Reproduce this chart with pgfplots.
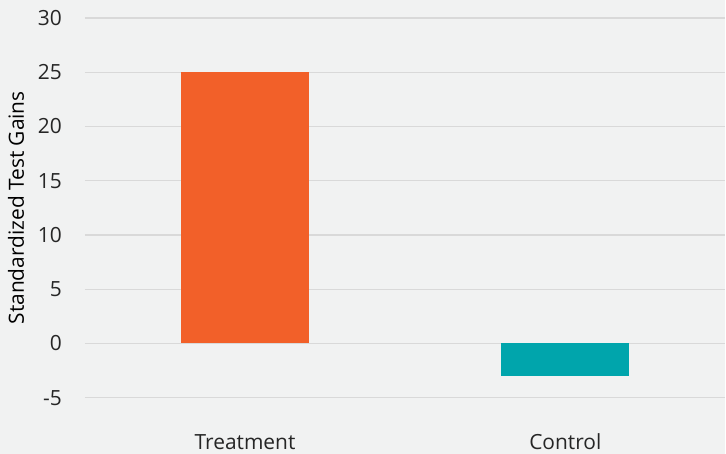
\documentclass[border=0pt]{standalone}
\usepackage{pgfplots}
\pgfplotsset{compat=1.18}
\usepackage{fontspec}
\setmainfont{Open Sans}
\definecolor{bgc}{HTML}{F1F2F2}
\definecolor{gridc}{HTML}{D9D9D9}
\definecolor{treat}{HTML}{F26029}
\definecolor{ctrl}{HTML}{00A5AC}
\begin{document}
\fontsize{21}{25}\selectfont
\begin{tikzpicture}[x=1bp,y=1bp]
  \fill[bgc] (-85bp,-56bp) rectangle (641bp,398bp);
  \begin{axis}[
    at={(0,0)}, anchor=south west,
    scale only axis,
    width=641bp, height=380bp,
    ymin=-5, ymax=30,
    ytick={-5,0,5,10,15,20,25,30},
    xmin=-0.5, xmax=1.5,
    xtick={0,1},
    xticklabels={Treatment, Control},
    ybar, bar width=0.4,
    axis line style={draw=none},
    major tick length=0pt,
    ymajorgrids,
    grid style={gridc, line width=1.2bp},
    /pgf/number format/assume math mode=true,
    ticklabel style={font=\fontsize{21}{25}\selectfont, text=black!85},
    yticklabel style={anchor=east, inner sep=0pt, xshift=-23bp},
    xticklabel style={anchor=base, inner sep=0pt, yshift=-52bp},
    ylabel={Standardized Test Gains},
    ylabel style={font=\fontsize{23.5}{27}\selectfont, text=black!85},
    every axis y label/.style={at={(rel axis cs:0,0.5)}, xshift=-69bp, rotate=90, anchor=center},
  ]
    \addplot[fill=treat, draw=none, bar shift=0pt] coordinates {(0,25)};
    \addplot[fill=ctrl, draw=none, bar shift=0pt] coordinates {(1,-3)};
  \end{axis}
\end{tikzpicture}
\end{document}
